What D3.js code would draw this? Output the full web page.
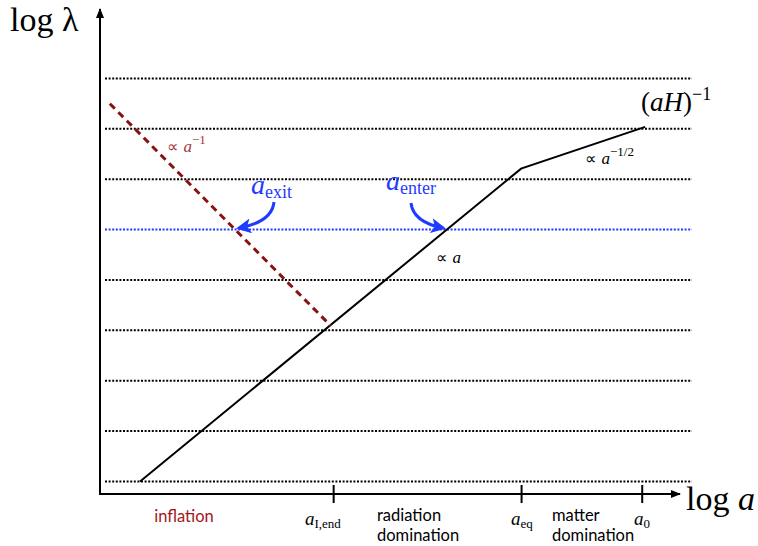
<!DOCTYPE html>
<html>
<head>
<meta charset="utf-8">
<script src="https://cdn.jsdelivr.net/npm/d3@7"></script>
<style>
  body { margin: 0; background: #fff; }
  .math { font-family: "Liberation Serif", "DejaVu Serif", serif; }
  .sans { font-family: "Lato", "Open Sans", sans-serif; }
</style>
</head>
<body>
<svg id="chart"></svg>
<script>
// ---- data (log a, log lambda in arbitrary units) ----
const modeLevels = [1, 2, 3, 4, 5, 6, 7, 8, 9];
const enterLevel = 6;
const horizonLogA = [0.69, 7.26, 9.40];
const horizonLogL = [1.0, 7.21, 8.04];
const modeLogA = [0.17, 3.98];
const modeLogL = [8.50, 4.09];
const tickLogA = [4.02, 7.26, 9.34];
const tickSubs = ['I,end', 'eq', '0'];

const width = 758, height = 546;
const svg = d3.select('#chart').attr('width', width).attr('height', height);

const x = d3.scaleLinear().domain([0, 10]).range([100, 680]);
const y = d3.scaleLinear().domain([0.75, 10.4]).range([494, 8]);

const defs = svg.append('defs');
defs.append('marker')
    .attr('id', 'axis-head')
    .attr('viewBox', '0 0 10 10')
    .attr('refX', 9).attr('refY', 5)
    .attr('markerWidth', 10).attr('markerHeight', 10)
    .attr('markerUnits', 'userSpaceOnUse')
    .attr('orient', 'auto')
    .append('path').attr('d', 'M0,1 L10,5 L0,9 Z').attr('fill', '#000');
defs.append('marker')
    .attr('id', 'blue-head')
    .attr('viewBox', '0 0 10 10')
    .attr('refX', 8).attr('refY', 5)
    .attr('markerWidth', 15).attr('markerHeight', 15)
    .attr('markerUnits', 'userSpaceOnUse')
    .attr('orient', 'auto')
    .append('path').attr('d', 'M0,0 L10,5 L0,10 L2.5,5 Z').attr('fill', '#1f3bff');

// dotted horizontal levels
svg.selectAll('.level')
    .data(modeLevels)
    .join('line')
    .attr('class', 'level')
    .attr('x1', 105).attr('x2', 692)
    .attr('y1', d => y(d)).attr('y2', d => y(d))
    .attr('stroke', d => d === enterLevel ? '#1f3bff' : '#000')
    .attr('stroke-width', 2)
    .attr('stroke-dasharray', '2,1.6');

// axes
svg.append('line')
    .attr('x1', 100).attr('x2', 100).attr('y1', 495).attr('y2', 9)
    .attr('stroke', '#000').attr('stroke-width', 2)
    .attr('marker-end', 'url(#axis-head)');
svg.append('line')
    .attr('x1', 99).attr('x2', 680).attr('y1', 494).attr('y2', 494)
    .attr('stroke', '#000').attr('stroke-width', 2)
    .attr('marker-end', 'url(#axis-head)');

const xAxis = d3.axisBottom(x).tickValues(tickLogA).tickSize(18).tickFormat('');
svg.append('g')
    .attr('transform', 'translate(0,485)')
    .call(xAxis)
    .call(g => g.select('.domain').remove())
    .call(g => g.selectAll('.tick line').attr('stroke', '#000').attr('stroke-width', 2));

// comoving Hubble radius
const line = d3.line().x(d => x(d[0])).y(d => y(d[1]));
svg.append('path')
    .datum(d3.zip(horizonLogA, horizonLogL))
    .attr('d', line)
    .attr('fill', 'none').attr('stroke', '#000').attr('stroke-width', 2);

// mode wavelength
svg.append('path')
    .datum(d3.zip(modeLogA, modeLogL))
    .attr('d', line)
    .attr('fill', 'none').attr('stroke', '#8b1010').attr('stroke-width', 3)
    .attr('stroke-dasharray', '7,5');

// blue curved arrows
svg.append('path')
    .attr('d', 'M274,202 Q272,222 239,228')
    .attr('fill', 'none').attr('stroke', '#1f3bff').attr('stroke-width', 3)
    .attr('marker-end', 'url(#blue-head)');
svg.append('path')
    .attr('d', 'M411,203 Q413,222 443,228')
    .attr('fill', 'none').attr('stroke', '#1f3bff').attr('stroke-width', 3)
    .attr('marker-end', 'url(#blue-head)');

// math text helper: base + optional italic / sub / sup pieces
function mathLabel(xp, yp, parts, fill, size) {
    const t = svg.append('text').attr('class', 'math')
        .attr('x', xp).attr('y', yp).attr('fill', fill || '#000')
        .attr('font-size', size);
    parts.forEach(p => {
        const s = t.append('tspan').text(p.t);
        if (p.italic) s.attr('font-style', 'italic');
        if (p.size) s.attr('font-size', p.size);
        if (p.dy) s.attr('dy', p.dy);
        if (p.font) s.attr('font-family', p.font);
    });
    return t;
}
const propto = {t: '∝ ', font: '"DejaVu Sans", sans-serif', size: 16};

mathLabel(10, 31, [{t: 'log λ'}], '#000', 34);
mathLabel(686, 510, [{t: 'log '}, {t: 'a', italic: true}], '#000', 34);

mathLabel(641, 111, [{t: '('}, {t: 'aH', italic: true}, {t: ')'},
    {t: '−1', size: 18, dy: -11}], '#000', 27);
mathLabel(585, 164, [propto, {t: 'a', italic: true, size: 17},
    {t: '−1/2', size: 13, dy: -8}], '#000', 17);
mathLabel(167, 152, [propto, {t: 'a', italic: true, size: 17},
    {t: '−1', size: 13, dy: -8}], '#a33a3a', 17);
mathLabel(436, 263, [propto, {t: 'a', italic: true, size: 17}], '#000', 17);

mathLabel(251, 194, [{t: 'a', italic: true}, {t: 'exit', size: 18, dy: 4}], '#1f3bff', 28);
mathLabel(386, 190, [{t: 'a', italic: true}, {t: 'enter', size: 18, dy: 4}], '#1f3bff', 28);

// tick labels
const tickLabelX = [305, 511, 634];
tickLogA.forEach((v, i) => {
    mathLabel(tickLabelX[i], 525, [{t: 'a', italic: true},
        {t: tickSubs[i], size: 13, dy: 3}], '#000', 19);
});

// era labels
svg.append('text').attr('class', 'sans')
    .attr('x', 184).attr('y', 522).attr('text-anchor', 'middle')
    .attr('font-size', 16.5).attr('fill', '#a01818').text('inflation');
[['radiation', 377], ['matter', 552]].forEach(([w, xp]) => {
    svg.append('text').attr('class', 'sans')
        .attr('x', xp).attr('y', 521).attr('font-size', 16.5).text(w);
    svg.append('text').attr('class', 'sans')
        .attr('x', xp).attr('y', 541).attr('font-size', 16.5).text('domination');
});
</script>
</body>
</html>
